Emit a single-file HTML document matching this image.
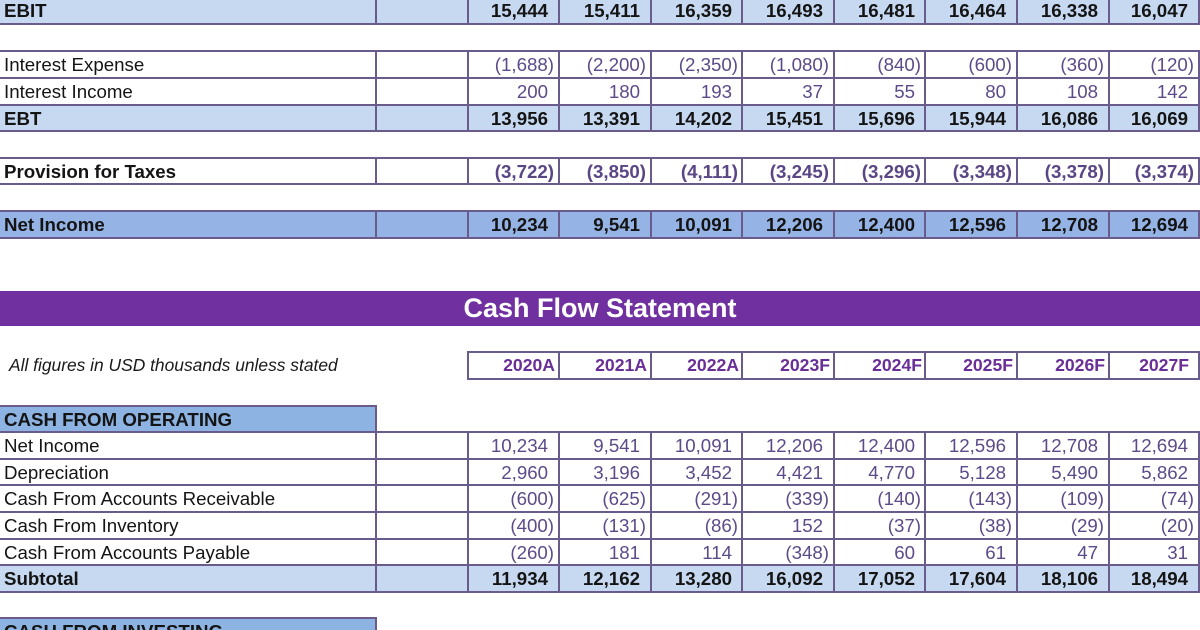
<!DOCTYPE html>
<html><head><meta charset="utf-8"><style>
*{margin:0;padding:0;box-sizing:border-box}
html,body{width:1200px;height:630px;overflow:hidden;background:#fff}
body{position:relative;font-family:"Liberation Sans",Arial,sans-serif;color:#141414}
.f{position:absolute}
.r{position:absolute;left:0;width:1200px}
.lb{position:absolute;left:4px;top:0;font-size:18.7px;white-space:nowrap}
.b{font-weight:bold}
.n{position:absolute;top:0;width:92px;text-align:right;font-size:18.7px;padding-right:5px;white-space:nowrap;color:#5d4a88}
.n.p{padding-right:11px}
.k .n{color:#141414;font-weight:bold}
.t .n{font-weight:bold;color:#5a4585}
.c0{left:467px}.c1{left:559px}.c2{left:651px}.c3{left:742px}.c4{left:834px}.c5{left:925px}.c6{left:1017px}.c7{left:1108px;width:91px}
.h{position:absolute;height:2px;background:#6a5b8d}
.v{position:absolute;width:2px;background:#6a5b8d}
.yr .n{font-size:17.6px;font-weight:bold;color:#6a2e97;padding-right:4px}
</style></head><body>

<!-- fills -->
<div class="f" style="left:0;top:0;width:1200px;height:24px;background:#c6d9f1"></div>
<div class="f" style="left:0;top:104px;width:1200px;height:27px;background:#c6d9f1"></div>
<div class="f" style="left:0;top:211px;width:1200px;height:26px;background:#95b3e4"></div>
<div class="f" style="left:0;top:291px;width:1200px;height:35px;background:#7030a0"></div>
<div class="f" style="left:0;top:405px;width:376px;height:27px;background:#8db3e2"></div>
<div class="f" style="left:0;top:565px;width:1200px;height:27px;background:#c6d9f1"></div>
<div class="f" style="left:0;top:618px;width:376px;height:12px;background:#8db3e2"></div>

<!-- EBIT -->
<div class="r k" style="top:-3px;height:27px;line-height:27px">
<div class="lb b">EBIT</div>
<div class="n p c0">15,444</div><div class="n p c1">15,411</div><div class="n p c2">16,359</div><div class="n p c3">16,493</div><div class="n p c4">16,481</div><div class="n p c5">16,464</div><div class="n p c6">16,338</div><div class="n p c7">16,047</div>
</div>

<!-- Interest Expense -->
<div class="r" style="top:51px;height:27px;line-height:27px">
<div class="lb">Interest Expense</div>
<div class="n c0">(1,688)</div><div class="n c1">(2,200)</div><div class="n c2">(2,350)</div><div class="n c3">(1,080)</div><div class="n c4">(840)</div><div class="n c5">(600)</div><div class="n c6">(360)</div><div class="n c7">(120)</div>
</div>
<div class="r" style="top:77.5px;height:27px;line-height:27px">
<div class="lb">Interest Income</div>
<div class="n p c0">200</div><div class="n p c1">180</div><div class="n p c2">193</div><div class="n p c3">37</div><div class="n p c4">55</div><div class="n p c5">80</div><div class="n p c6">108</div><div class="n p c7">142</div>
</div>
<div class="r k" style="top:104.5px;height:27px;line-height:27px">
<div class="lb b">EBT</div>
<div class="n p c0">13,956</div><div class="n p c1">13,391</div><div class="n p c2">14,202</div><div class="n p c3">15,451</div><div class="n p c4">15,696</div><div class="n p c5">15,944</div><div class="n p c6">16,086</div><div class="n p c7">16,069</div>
</div>

<!-- Provision -->
<div class="r t" style="top:157.5px;height:27px;line-height:27px">
<div class="lb b">Provision for Taxes</div>
<div class="n c0">(3,722)</div><div class="n c1">(3,850)</div><div class="n c2">(4,111)</div><div class="n c3">(3,245)</div><div class="n c4">(3,296)</div><div class="n c5">(3,348)</div><div class="n c6">(3,378)</div><div class="n c7">(3,374)</div>
</div>

<!-- Net Income -->
<div class="r k" style="top:211px;height:26.5px;line-height:27px">
<div class="lb b">Net Income</div>
<div class="n p c0">10,234</div><div class="n p c1">9,541</div><div class="n p c2">10,091</div><div class="n p c3">12,206</div><div class="n p c4">12,400</div><div class="n p c5">12,596</div><div class="n p c6">12,708</div><div class="n p c7">12,694</div>
</div>

<!-- Banner -->
<div class="r" style="top:291px;height:35px;line-height:35px;text-align:center;color:#fff;font-weight:bold;font-size:27px">Cash Flow Statement</div>

<!-- Years -->
<div class="r yr" style="top:352px;height:27px;line-height:27px">
<div class="lb" style="left:9px;font-style:italic;font-size:17.4px;color:#1a1a1a">All figures in USD thousands unless stated</div>
<div class="n c0">2020A</div><div class="n c1">2021A</div><div class="n c2">2022A</div><div class="n c3">2023F</div><div class="n c4">2024F</div><div class="n c5">2025F</div><div class="n c6">2026F</div><div class="n c7" style="padding-right:10px">2027F</div>
</div>

<!-- CFO header -->
<div class="r" style="top:405.5px;height:27px;line-height:27px">
<div class="lb b">CASH FROM OPERATING</div>
</div>

<div class="r" style="top:432px;height:27px;line-height:27px">
<div class="lb">Net Income</div>
<div class="n p c0">10,234</div><div class="n p c1">9,541</div><div class="n p c2">10,091</div><div class="n p c3">12,206</div><div class="n p c4">12,400</div><div class="n p c5">12,596</div><div class="n p c6">12,708</div><div class="n p c7">12,694</div>
</div>
<div class="r" style="top:458.8px;height:27px;line-height:27px">
<div class="lb">Depreciation</div>
<div class="n p c0">2,960</div><div class="n p c1">3,196</div><div class="n p c2">3,452</div><div class="n p c3">4,421</div><div class="n p c4">4,770</div><div class="n p c5">5,128</div><div class="n p c6">5,490</div><div class="n p c7">5,862</div>
</div>
<div class="r" style="top:485.4px;height:27px;line-height:27px">
<div class="lb">Cash From Accounts Receivable</div>
<div class="n c0">(600)</div><div class="n c1">(625)</div><div class="n c2">(291)</div><div class="n c3">(339)</div><div class="n c4">(140)</div><div class="n c5">(143)</div><div class="n c6">(109)</div><div class="n c7">(74)</div>
</div>
<div class="r" style="top:512px;height:27px;line-height:27px">
<div class="lb">Cash From Inventory</div>
<div class="n c0">(400)</div><div class="n c1">(131)</div><div class="n c2">(86)</div><div class="n p c3">152</div><div class="n c4">(37)</div><div class="n c5">(38)</div><div class="n c6">(29)</div><div class="n c7">(20)</div>
</div>
<div class="r" style="top:538.6px;height:27px;line-height:27px">
<div class="lb">Cash From Accounts Payable</div>
<div class="n c0">(260)</div><div class="n p c1">181</div><div class="n p c2">114</div><div class="n c3">(348)</div><div class="n p c4">60</div><div class="n p c5">61</div><div class="n p c6">47</div><div class="n p c7">31</div>
</div>
<div class="r k" style="top:565.2px;height:27px;line-height:27px">
<div class="lb b">Subtotal</div>
<div class="n p c0">11,934</div><div class="n p c1">12,162</div><div class="n p c2">13,280</div><div class="n p c3">16,092</div><div class="n p c4">17,052</div><div class="n p c5">17,604</div><div class="n p c6">18,106</div><div class="n p c7">18,494</div>
</div>

<!-- CFI header -->
<div class="r" style="top:618.4px;height:27px;line-height:27px">
<div class="lb b">CASH FROM INVESTING</div>
</div>

<!-- horizontal lines -->
<div class="h" style="left:0;width:1200px;top:23px"></div>
<div class="h" style="left:0;width:1200px;top:50px"></div>
<div class="h" style="left:0;width:1200px;top:76.5px"></div>
<div class="h" style="left:0;width:1200px;top:103.5px"></div>
<div class="h" style="left:0;width:1200px;top:130px"></div>
<div class="h" style="left:0;width:1200px;top:156.5px"></div>
<div class="h" style="left:0;width:1200px;top:183px"></div>
<div class="h" style="left:0;width:1200px;top:210px"></div>
<div class="h" style="left:0;width:1200px;top:236.5px"></div>
<div class="h" style="left:467px;width:733px;top:351px"></div>
<div class="h" style="left:467px;width:733px;top:378px"></div>
<div class="h" style="left:0;width:377px;top:404.5px"></div>
<div class="h" style="left:0;width:1200px;top:431px"></div>
<div class="h" style="left:0;width:1200px;top:457.8px"></div>
<div class="h" style="left:0;width:1200px;top:484.4px"></div>
<div class="h" style="left:0;width:1200px;top:511px"></div>
<div class="h" style="left:0;width:1200px;top:537.6px"></div>
<div class="h" style="left:0;width:1200px;top:564.2px"></div>
<div class="h" style="left:0;width:1200px;top:590.8px"></div>
<div class="h" style="left:0;width:377px;top:617.4px"></div>

<!-- vertical lines: EBIT -->
<div class="v" style="left:375px;top:0;height:24px"></div>
<div class="v" style="left:466.5px;top:0;height:24px"></div>
<div class="v" style="left:558px;top:0;height:24px"></div>
<div class="v" style="left:650px;top:0;height:24px"></div>
<div class="v" style="left:741px;top:0;height:24px"></div>
<div class="v" style="left:833px;top:0;height:24px"></div>
<div class="v" style="left:924px;top:0;height:24px"></div>
<div class="v" style="left:1016px;top:0;height:24px"></div>
<div class="v" style="left:1107.5px;top:0;height:24px"></div>
<div class="v" style="left:1198px;top:0;height:24px"></div>
<!-- interest group -->
<div class="v" style="left:375px;top:51px;height:80px"></div>
<div class="v" style="left:466.5px;top:51px;height:80px"></div>
<div class="v" style="left:558px;top:51px;height:80px"></div>
<div class="v" style="left:650px;top:51px;height:80px"></div>
<div class="v" style="left:741px;top:51px;height:80px"></div>
<div class="v" style="left:833px;top:51px;height:80px"></div>
<div class="v" style="left:924px;top:51px;height:80px"></div>
<div class="v" style="left:1016px;top:51px;height:80px"></div>
<div class="v" style="left:1107.5px;top:51px;height:80px"></div>
<div class="v" style="left:1198px;top:51px;height:80px"></div>
<!-- provision -->
<div class="v" style="left:375px;top:157.5px;height:26.5px"></div>
<div class="v" style="left:466.5px;top:157.5px;height:26.5px"></div>
<div class="v" style="left:558px;top:157.5px;height:26.5px"></div>
<div class="v" style="left:650px;top:157.5px;height:26.5px"></div>
<div class="v" style="left:741px;top:157.5px;height:26.5px"></div>
<div class="v" style="left:833px;top:157.5px;height:26.5px"></div>
<div class="v" style="left:924px;top:157.5px;height:26.5px"></div>
<div class="v" style="left:1016px;top:157.5px;height:26.5px"></div>
<div class="v" style="left:1107.5px;top:157.5px;height:26.5px"></div>
<div class="v" style="left:1198px;top:157.5px;height:26.5px"></div>
<!-- net income -->
<div class="v" style="left:375px;top:211px;height:26.5px"></div>
<div class="v" style="left:466.5px;top:211px;height:26.5px"></div>
<div class="v" style="left:558px;top:211px;height:26.5px"></div>
<div class="v" style="left:650px;top:211px;height:26.5px"></div>
<div class="v" style="left:741px;top:211px;height:26.5px"></div>
<div class="v" style="left:833px;top:211px;height:26.5px"></div>
<div class="v" style="left:924px;top:211px;height:26.5px"></div>
<div class="v" style="left:1016px;top:211px;height:26.5px"></div>
<div class="v" style="left:1107.5px;top:211px;height:26.5px"></div>
<div class="v" style="left:1198px;top:211px;height:26.5px"></div>
<!-- years -->
<div class="v" style="left:466.5px;top:352px;height:27px"></div>
<div class="v" style="left:558px;top:352px;height:27px"></div>
<div class="v" style="left:650px;top:352px;height:27px"></div>
<div class="v" style="left:741px;top:352px;height:27px"></div>
<div class="v" style="left:833px;top:352px;height:27px"></div>
<div class="v" style="left:924px;top:352px;height:27px"></div>
<div class="v" style="left:1016px;top:352px;height:27px"></div>
<div class="v" style="left:1107.5px;top:352px;height:27px"></div>
<div class="v" style="left:1198px;top:352px;height:27px"></div>
<!-- cfo header -->
<div class="v" style="left:375px;top:405.5px;height:26.5px"></div>
<!-- operating rows -->
<div class="v" style="left:375px;top:432px;height:160px"></div>
<div class="v" style="left:466.5px;top:432px;height:160px"></div>
<div class="v" style="left:558px;top:432px;height:160px"></div>
<div class="v" style="left:650px;top:432px;height:160px"></div>
<div class="v" style="left:741px;top:432px;height:160px"></div>
<div class="v" style="left:833px;top:432px;height:160px"></div>
<div class="v" style="left:924px;top:432px;height:160px"></div>
<div class="v" style="left:1016px;top:432px;height:160px"></div>
<div class="v" style="left:1107.5px;top:432px;height:160px"></div>
<div class="v" style="left:1198px;top:432px;height:160px"></div>
<!-- cfi header -->
<div class="v" style="left:375px;top:618.4px;height:12px"></div>

</body></html>
